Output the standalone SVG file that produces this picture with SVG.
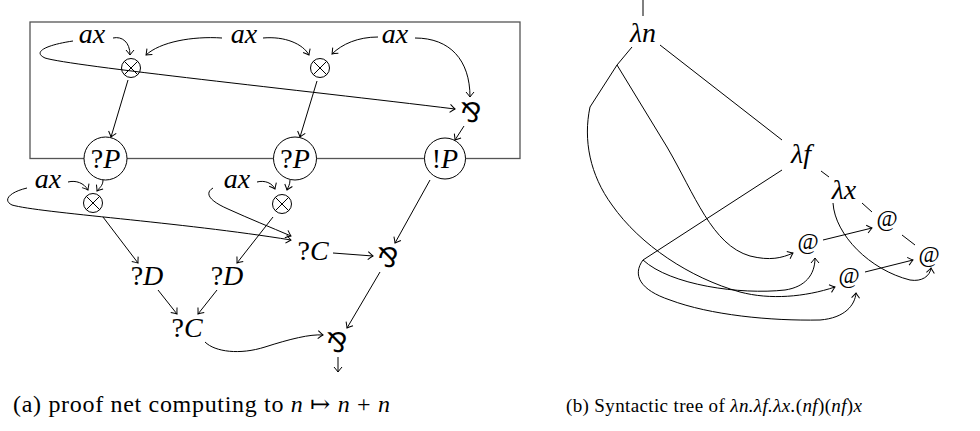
<svg xmlns="http://www.w3.org/2000/svg" width="980" height="431" viewBox="0 0 980 431">
<defs>
<style>
.m{font-family:"Liberation Serif","DejaVu Serif",serif;font-size:28px;font-style:italic;text-anchor:middle;fill:#000}
.u{font-style:normal}
.par{font-family:"DejaVu Sans",sans-serif;font-size:27px;text-anchor:middle;fill:#000}
.at{font-family:"Liberation Serif","DejaVu Serif",serif;font-size:23px;text-anchor:middle;fill:#000}
.cap{font-family:"Liberation Serif","DejaVu Serif",serif;fill:#000}
.i{font-style:italic}
.e{fill:none;stroke:#000;stroke-width:1}
.ea{fill:none;stroke:#000;stroke-width:1;marker-end:url(#ah)}
.box{fill:none;stroke:#555;stroke-width:1.3}
.nc{fill:#fff;stroke:#000;stroke-width:1}
</style>
<marker id="ah" viewBox="-7 -5 8 10" refX="0" refY="0" markerWidth="8" markerHeight="10" orient="auto" markerUnits="userSpaceOnUse">
<path d="M-5,-4 Q-1.5,-1 0,0 Q-1.5,1 -5,4" fill="none" stroke="#000" stroke-width="1"/>
</marker>
<g id="otimes"><circle cx="0" cy="0" r="9.5" fill="none" stroke="#000" stroke-width="1"/><path d="M-6.7,-6.7L6.7,6.7M-6.7,6.7L6.7,-6.7" stroke="#000" stroke-width="1"/></g>
</defs>

<rect class="box" x="30" y="22" width="490" height="136.5"/>

<g id="connectors">
<path class="ea" d="M128,80 L111,137"/>
<path class="ea" d="M317,81 L300,137"/>
<path class="ea" d="M464,126 L455,140"/>
<path class="ea" d="M113,38 C122,36 130,42 130,55"/>
<path class="ea" d="M222,38 C192,36 160,42 146,55"/>
<path class="ea" d="M263,38 C285,36 303,44 309,55"/>
<path class="ea" d="M378,37 C358,37 342,44 332,54"/>
<path class="ea" d="M415,38 C450,38 470,60 470,97"/>
<path class="ea" d="M73,41 C46,45 32,52 45,58 C70,66 300,90 455,109"/>
<path class="ea" d="M103,180 C103,186 99,188 97,191"/>
<path class="ea" d="M68,182 C76,180 84,183 88,190"/>
<path class="ea" d="M290,180 C290,185 288,187 287,190"/>
<path class="ea" d="M257,182 C265,180 272,183 275,189"/>
<path class="ea" d="M27,188 C10,192 2,200 12,205 C40,213 180,222 291,240"/>
<path class="ea" d="M213,188 C203,194 212,202 228,209 C250,219 270,227 291,236"/>
<path class="ea" d="M103,217 L138,263"/>
<path class="ea" d="M273,217 L237,263"/>
<path class="ea" d="M158,290 L177,314"/>
<path class="ea" d="M217,290 L198,314"/>
<path class="ea" d="M333,253 L373,256"/>
<path class="ea" d="M430,180 L395,243"/>
<path class="ea" d="M380,272 L347,328"/>
<path class="ea" d="M205,342 C215,352 240,355 265,347 C290,339 310,334 323,335"/>
<path class="ea" d="M338,357 L338,372"/>

<path class="e" d="M643,0 L643,16"/>
<path class="e" d="M660,45 L782,140"/>
<path class="e" d="M632,47 L617,65"/>
<path class="ea" d="M617,65 L590,107 C583,140 590,175 612,205 C640,245 690,278 740,292 C770,300 805,297 835,287"/>
<path class="ea" d="M617,65 L667,147 C695,195 712,245 750,256 C770,261 782,258 793,253"/>
<path class="e" d="M782,170 L643,260"/>
<path class="ea" d="M643,260 C670,285 740,295 785,290 C805,287 815,275 815,258"/>
<path class="ea" d="M643,260 C632,275 640,290 670,300 C710,315 770,321 820,320 C845,318 855,305 856,293"/>
<path class="e" d="M821,171 L829,177"/>
<path class="e" d="M862,203 L872,212"/>
<path class="e" d="M902,235 L915,245"/>
<path class="ea" d="M823,240 L872,228"/>
<path class="ea" d="M865,272 L913,260"/>
<path class="ea" d="M833,203 C835,235 870,270 910,280 C922,282 930,276 931,268"/>
</g>

<g id="ax1"><text class="m" x="92" y="43">ax</text></g>
<g id="ax2"><text class="m" x="244" y="43">ax</text></g>
<g id="ax3"><text class="m" x="395" y="43">ax</text></g>
<g id="tensor1"><use href="#otimes" x="131" y="68"/></g>
<g id="tensor2"><use href="#otimes" x="320" y="68"/></g>
<g id="par1"><text class="par" x="471" y="122">⅋</text></g>
<g id="whyP1"><circle class="nc" cx="105.5" cy="158.5" r="21.5"/><text class="m" x="105.5" y="168"><tspan class="u">?</tspan>P</text></g>
<g id="whyP2"><circle class="nc" cx="295" cy="158.5" r="21.5"/><text class="m" x="295" y="168"><tspan class="u">?</tspan>P</text></g>
<g id="ofcP"><circle class="nc" cx="445" cy="158.5" r="20.5"/><text class="m" x="445" y="168"><tspan class="u">!</tspan>P</text></g>
<g id="ax4"><text class="m" x="48" y="188">ax</text></g>
<g id="ax5"><text class="m" x="237" y="188">ax</text></g>
<g id="tensor3"><use href="#otimes" x="93" y="203"/></g>
<g id="tensor4"><use href="#otimes" x="282" y="204"/></g>
<g id="whyC1"><text class="m" x="313" y="260"><tspan class="u">?</tspan>C</text></g>
<g id="par2"><text class="par" x="388" y="267">⅋</text></g>
<g id="whyD1"><text class="m" x="147" y="285"><tspan class="u">?</tspan>D</text></g>
<g id="whyD2"><text class="m" x="227" y="285"><tspan class="u">?</tspan>D</text></g>
<g id="whyC2"><text class="m" x="187" y="337"><tspan class="u">?</tspan>C</text></g>
<g id="par3"><text class="par" x="337" y="352">⅋</text></g>

<g id="lamN"><text class="m" x="643" y="42">λn</text></g>
<g id="lamF"><text class="m" x="801" y="163">λf</text></g>
<g id="lamX"><text class="m" x="844" y="199">λx</text></g>
<g id="app1"><text class="at" x="808" y="249">@</text></g>
<g id="app2"><text class="at" x="887" y="226">@</text></g>
<g id="app3"><text class="at" x="849" y="283">@</text></g>
<g id="app4"><text class="at" x="929" y="262">@</text></g>

<text class="cap" x="13" y="412" font-size="24" textLength="377" lengthAdjust="spacing">(a) proof net computing to <tspan class="i">n</tspan> ↦ <tspan class="i">n</tspan> + <tspan class="i">n</tspan></text>
<text class="cap" x="566" y="412" font-size="19" textLength="296" lengthAdjust="spacing">(b) Syntactic tree of <tspan class="i">λn.λf.λx.</tspan>(<tspan class="i">nf</tspan>)(<tspan class="i">nf</tspan>)<tspan class="i">x</tspan></text>
</svg>
